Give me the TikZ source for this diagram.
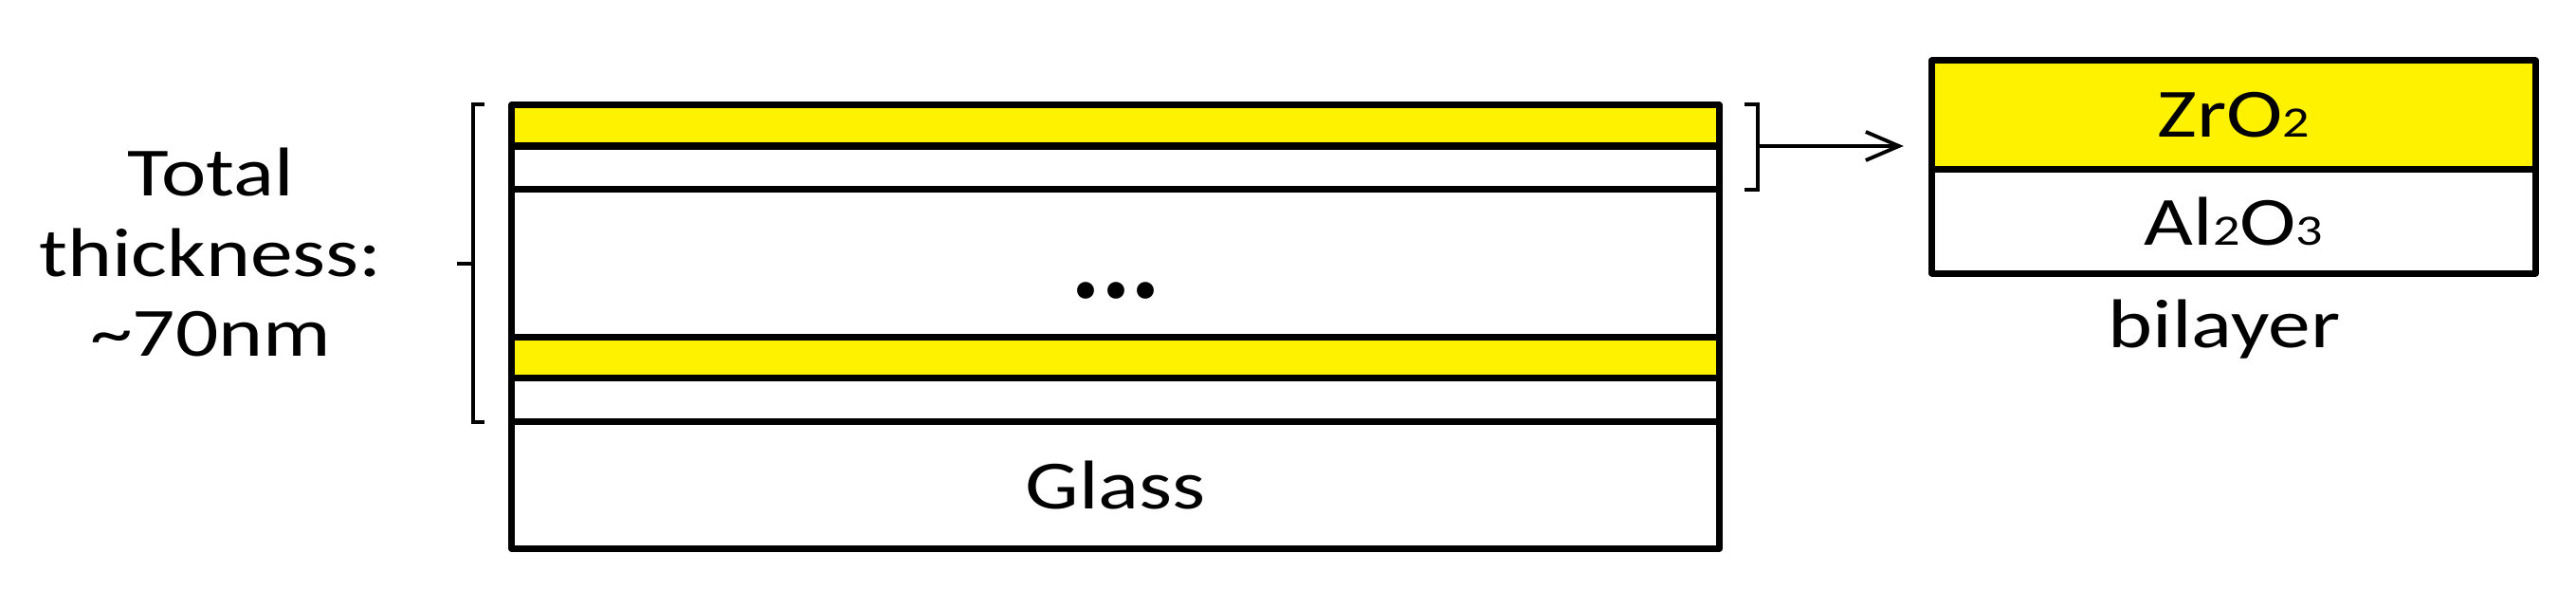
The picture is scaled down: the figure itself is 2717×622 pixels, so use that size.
\documentclass[tikz,border=0pt]{standalone}
\usepackage{fontspec}
\setmainfont{Carlito}
\usepackage{graphicx}
\usepackage{tikz}
\usetikzlibrary{arrows.meta,positioning,calc}

\newcommand{\chemidx}[1]{{\fontsize{13}{13}\selectfont #1}}
\newcommand{\wide}[1]{\scalebox{1.23}[1]{#1}}

\begin{document}
\begin{tikzpicture}[x=0.01cm, y=-0.01cm,
    every node/.style={font=\fontsize{20.7}{23.9}\selectfont},
    layer/.style={draw, line width=2pt, line join=round, inner sep=0pt, outer sep=0pt,
      minimum width=12.73cm},
    brk/.style={line width=1.1pt}]
  \useasboundingbox (0,0) rectangle (2717,622);
  % film stack on glass
  \node[layer, fill=yellow, minimum height=0.43cm] (zr1) at (1176.5,132.5) {};
  \node[layer, minimum height=0.45cm, below=0pt of zr1] (al1) {};
  \node[layer, minimum height=1.56cm, below=0pt of al1] (gap) {};
  \node[layer, fill=yellow, minimum height=0.43cm, below=0pt of gap] (zr2) {};
  \node[layer, minimum height=0.46cm, below=0pt of zr2] (al2) {};
  \node[layer, minimum height=1.34cm, below=0pt of al2] (glass) {\wide{Glass}};
  \node[font=\fontsize{34}{34}\selectfont\bfseries, anchor=base] (ell) at (1177,315) {...};

  % total thickness bracket
  \node[align=center] (tot) at (222,266) {\wide{Total}\\\wide{thickness:}\\\wide{\textasciitilde70nm}};
  \draw[brk] (511,110) -- (499,110) -- (499,445) -- (511,445);
  \draw[brk] (499,278) -- (482,278);

  % one bilayer, enlarged
  \node[layer, fill=yellow, minimum width=6.36cm, minimum height=1.14cm] (bzr) at (2356,121) {\wide{ZrO\chemidx{2}}};
  \node[layer, minimum width=6.36cm, minimum height=1.10cm, below=0pt of bzr] (bal) {\wide{Al\chemidx{2}O\chemidx{3}}};
  \node[anchor=base] (blab) at (2346,367) {\wide{bilayer}};

  \draw[brk] (1840,110) -- (1854,110) -- (1854,200) -- (1840,200);
  \coordinate (rb) at (1861,154);
  \draw[brk] (1854,154) -- (rb);
  \draw[brk, -{Straight Barb[length=0.35cm,width=0.3cm]}, shorten >=0.3cm] (rb) -- (rb -| bzr.west);
\end{tikzpicture}
\end{document}
